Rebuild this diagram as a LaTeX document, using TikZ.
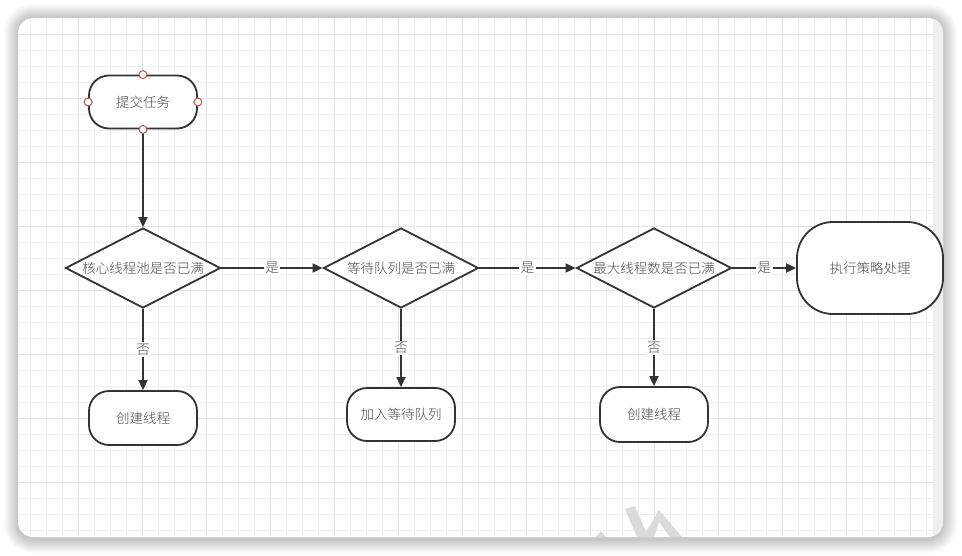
\documentclass[tikz,border=0pt]{standalone}
\usepackage{fontspec}
\newfontfamily\cjk{Noto Sans CJK SC Light}
\usetikzlibrary{arrows.meta,shapes.geometric}
\definecolor{ln}{HTML}{333333}
\definecolor{tx}{HTML}{4A4A4A}
\definecolor{gmin}{HTML}{EFEFEF}
\definecolor{gmaj}{HTML}{E4E4E4}
\definecolor{port}{HTML}{B85450}
\definecolor{wm}{HTML}{DADADA}
\newcommand\dtxt{\cjk\fontsize{13.5}{16}\selectfont}
\tikzset{
  term/.style={draw=ln, line width=1.8pt, fill=white, rounded corners=20pt,
    minimum width=108pt, minimum height=53pt, inner sep=0pt, font=\dtxt, text=tx},
  dia/.style={diamond, aspect=1.94, draw=ln, line width=1.8pt, fill=white,
    minimum width=155pt, minimum height=80pt, inner sep=0pt, font=\dtxt, text=tx},
  lbl/.style={fill=white, inner sep=1.5pt, font=\dtxt, text=tx},
  arr/.style={draw=ln, line width=1.8pt, -{Triangle[length=10pt,width=9pt]}},
  portc/.style={circle, draw=port, fill=white, minimum size=8pt, inner sep=0pt, line width=1pt},
  gminor/.style={draw=gmin, line width=0.8pt},
  gmajor/.style={draw=gmaj, line width=0.8pt}
}
\begin{document}
\begin{tikzpicture}[x=1pt,y=-1pt]
\useasboundingbox (0,0) rectangle (962,555);
\fill[white] (0,0) rectangle (962,555);
% shadow
\foreach \d [evaluate=\d as \r using 15+\d] in {1,...,14}
  \fill[black,opacity=0.014,rounded corners=\r pt] (18-\d,18-\d) rectangle (943+\d,539+\d);
% frame
\fill[white,rounded corners=15pt] (18,18) rectangle (943,537);
\begin{scope}
\clip[rounded corners=15pt] (18,18) rectangle (943,537);
\fill[gmin] (933,18) rectangle (943,537);
\foreach \x in {30,46,...,926} \draw[gminor] (\x,18) -- (\x,535);
\foreach \y in {34,50,...,530} \draw[gminor] (18,\y) -- (933,\y);
\foreach \x in {78,142,...,910} \draw[gmajor] (\x,18) -- (\x,535);
\foreach \y in {34,98,...,482} \draw[gmajor] (18,\y) -- (933,\y);
% watermark fragments
\fill[wm] (625,509) -- (635,506) -- (648,537) -- (637,537) -- cycle;
\fill[wm] (643,537) -- (659,510) -- (682,537) -- (670,537) -- (659,522) -- (654,537) -- cycle;
\fill[wm] (596,537) -- (601,531) -- (606,537) -- cycle;
\end{scope}

% nodes
\node[term] (s) at (143,102) {提交任务};
\node[dia] (d1) at (143,268) {核心线程池是否已满};
\node[dia] (d2) at (401,268) {等待队列是否已满};
\node[dia] (d3) at (654,268) {最大线程数是否已满};
\node[term, minimum width=146pt, minimum height=92pt, rounded corners=36pt] (e) at (870,268) {执行策略处理};
\node[term, minimum height=54pt] (c1) at (143,418) {创建线程};
\node[term] (c2) at (401,414.5) {加入等待队列};
\node[term, minimum height=55pt] (c3) at (654,414.5) {创建线程};

% connectors
\draw[arr] (s.south) -- (d1.north);
\draw[arr] (d1.east) -- node[lbl] {是} (d2.west);
\draw[arr] (d2.east) -- node[lbl] {是} (d3.west);
\draw[arr] (d3.east) -- node[lbl] {是} (e.west);
\draw[arr] (d1.south) -- node[lbl] {否} (c1.north);
\draw[arr] (d2.south) -- node[lbl] {否} (c2.north);
\draw[arr] (d3.south) -- node[lbl] {否} (c3.north);

% ports on start node
\node[portc] (pn) at (s.north) {};
\node[portc] (ps) at (s.south) {};
\node[portc] (pw) at (s.west) {};
\node[portc] (pe) at (s.east) {};
\end{tikzpicture}
\end{document}
